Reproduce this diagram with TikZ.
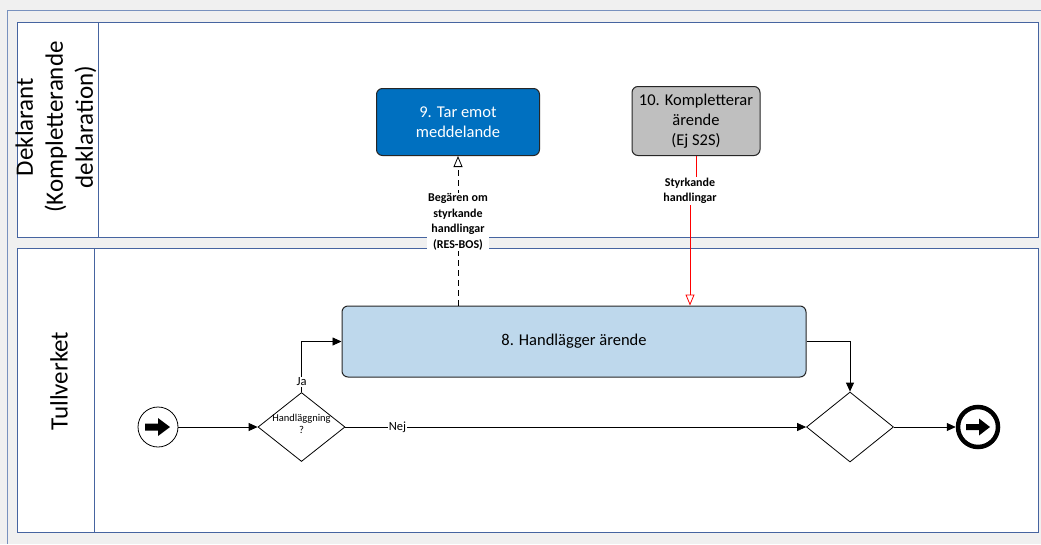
\documentclass[tikz,border=0pt]{standalone}
\usepackage{fontspec}
\setmainfont{Carlito}
\usetikzlibrary{shapes.geometric, arrows.meta, positioning}
\definecolor{lanecol}{RGB}{70,100,160}
\definecolor{framecol}{RGB}{120,145,190}
\definecolor{bggray}{RGB}{240,240,240}
\definecolor{taskblue}{RGB}{0,112,192}
\definecolor{tasklight}{RGB}{190,216,236}
\definecolor{taskgray}{RGB}{191,191,191}

\begin{document}
\begin{tikzpicture}[x=1pt, y=-1pt,
    lane/.style={draw=lanecol, fill=white, line width=1pt},
    lanetitle/.style={rotate=90, align=center, font=\fontsize{25}{30}\selectfont},
    task/.style={rectangle, rounded corners=6pt, draw=black!85, line width=1pt, align=center, font=\fontsize{16.5}{20}\selectfont},
    gate/.style={diamond, draw, line width=0.8pt, inner sep=0pt},
    flow/.style={line width=0.8pt, -{Triangle[length=9pt, width=8pt]}},
    msgflow/.style={line width=0.8pt, dash pattern=on 6pt off 4pt, -{Triangle[open, length=11pt, width=9pt]}},
    redflow/.style={line width=0.8pt, red, -{Triangle[open, length=11pt, width=9pt]}},
    msglabel/.style={fill=white, inner sep=1pt, align=center, font=\fontsize{12}{15.5}\selectfont\bfseries},
    flowlabel/.style={fill=white, inner sep=1pt, font=\fontsize{12.5}{14}\selectfont}]

    \useasboundingbox (0, 0) rectangle (1041, 544);
    \fill[bggray] (0, 0) rectangle (1041, 544);
    \draw[framecol, line width=1pt] (1041, 10) -- (7, 10) -- (7, 544);

    \draw[lane] (17, 22) rectangle (1038, 237);
    \draw[lane] (98, 22) -- (98, 237);
    \draw[lane] (17, 248) rectangle (1038, 532);
    \draw[lane] (94, 248) -- (94, 532);

    \node[lanetitle] (deklarant) at (56, 127) {Deklarant\\(Kompletterande\\deklaration)};
    \node[lanetitle] (tullverket) at (59, 381) {Tullverket};

    \node[task, fill=taskblue, text=white, minimum width=163pt, minimum height=67pt] (t9) at (458, 122) {9. Tar emot\\meddelande};
    \node[task, fill=taskgray, minimum width=128pt, minimum height=69pt] (t10) at (696, 121) {10. Kompletterar\\ärende\\(Ej S2S)};
    \node[task, fill=tasklight, minimum width=464pt, minimum height=71pt] (t8) at (574, 341.5) {8. Handlägger ärende};

    \node[circle, draw, line width=0.8pt, minimum size=40pt, inner sep=0pt] (start) at (158, 427) {};
    \fill (start.center) ++(-13, -3.5) -- ++(13, 0) -- ++(0, -5.5) -- ++(12, 9) -- ++(-12, 9) -- ++(0, -5.5) -- ++(-13, 0) -- cycle;

    \node[gate, minimum width=87pt, minimum height=69pt] (g1) at (301.5, 427) {};
    \node[align=center, font=\fontsize{10.5}{12}\selectfont] (g1txt) at (301.5, 424) {Handläggning\\?};
    \node[gate, minimum width=87pt, minimum height=70pt] (g2) at (850, 427) {};

    \node[circle, draw, line width=4.5pt, minimum size=40pt, inner sep=0pt] (stop) at (978, 427) {};
    \fill (stop.center) ++(-12, -3) -- ++(13, 0) -- ++(0, -5.5) -- ++(11, 8.5) -- ++(-11, 8.5) -- ++(0, -5.5) -- ++(-13, 0) -- cycle;

    \draw[flow] (start) -- (g1.west);
    \draw[flow] (g1.north) |- (t8.west) node[flowlabel, pos=0.1] {Ja};
    \draw[flow] (g1.east) -- (g2.west) node[flowlabel, pos=0.113] {Nej};
    \draw[flow] (t8.east) -| (g2.north);
    \draw[flow] (g2.east) -- (stop.west);

    \draw[msgflow] (t9.south |- t8.north) -- (t9.south)
        node[msglabel, pos=0.56] (req) {Begären om\\styrkande\\handlingar\\(RES-BOS)};
    \coordinate (rb) at (690, 191);
    \draw[redflow] (t10.south) -- (t10.south |- rb) -- (rb) -- (rb |- t8.north);
    \node[msglabel] (docs) at (rb) {Styrkande\\handlingar};
\end{tikzpicture}
\end{document}
